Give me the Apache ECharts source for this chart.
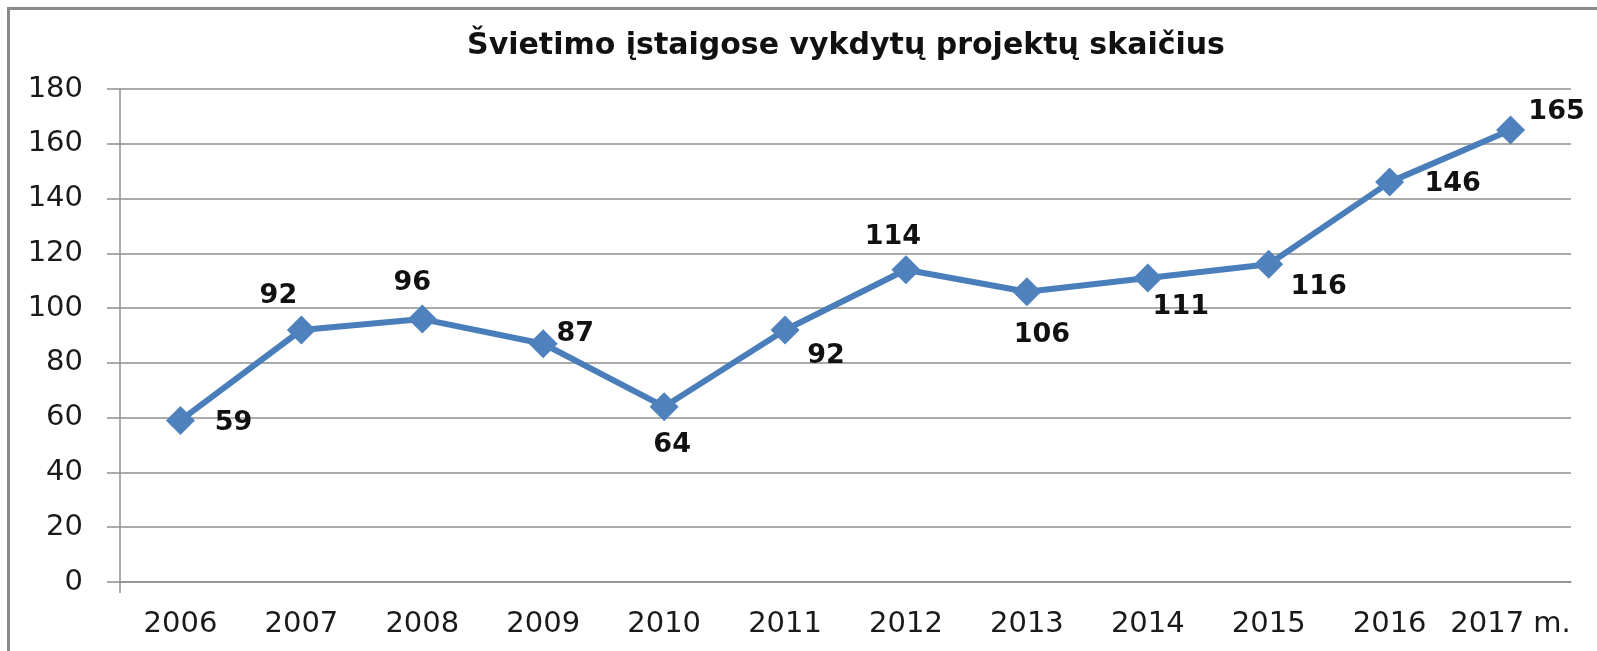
<!DOCTYPE html>
<html>
<head>
<meta charset="utf-8">
<title>Švietimo įstaigose vykdytų projektų skaičius</title>
<script src="https://cdn.jsdelivr.net/npm/echarts@6/dist/echarts.min.js"></script>
<style>
    html, body {
        margin: 0;
        padding: 0;
        width: 1597px;
        height: 651px;
        overflow: hidden;
        background: #fff;
    }
    /* rėmelis, dešinė ir apačia nukirpti kaip originale */
    #frame {
        position: absolute;
        left: 7px;
        top: 7px;
        width: 1640px;
        height: 700px;
        border: 3px solid #8a8a8a;
    }
    #chart {
        position: absolute;
        left: 0;
        top: 0;
        width: 1597px;
        height: 651px;
    }
</style>
</head>
<body>
<div id="frame"></div>
<div id="chart"></div>
<script>
    // duomenys
    let years = ['2006', '2007', '2008', '2009', '2010', '2011', '2012', '2013', '2014', '2015', '2016', '2017 m.'];
    let projects = [59, 92, 96, 87, 64, 92, 114, 106, 111, 116, 146, 165];
    let yMin = 0;
    let yMax = 180;
    let yStep = 20;

    // etikečių poslinkiai nuo taško centro (px)
    let labelOffsets = [
        [53, 3], [-23, -34], [-10, -36], [32, -10], [8, 38], [41, 26],
        [-13, -33], [15, 43], [33, 29], [50, 23], [63, 2], [46, -18]
    ];

    let font = 'DejaVu Sans';
    let gridColor = '#8f8f8f';
    let gridLeft = 120;
    let gridBottom = 69;
    let chartH = 651;

    let seriesData = projects.map((v, i) => {
        return {
            value: v,
            label: {
                offset: labelOffsets[i]
            }
        };
    });

    let myChart = echarts.init(document.getElementById('chart'), null, {renderer: 'canvas'});
    let option = {
        backgroundColor: 'transparent',
        animation: false,
        graphic: [{
            type: 'text',
            x: 846,
            y: 46,
            style: {
                text: 'Švietimo įstaigose vykdytų projektų skaičius',
                fontFamily: font,
                fontWeight: 'bold',
                fontSize: 30,
                fill: '#111',
                textAlign: 'center',
                textVerticalAlign: 'middle'
            }
        }, {
            // vertikalios ašies tęsinys žemiau nulio
            type: 'line',
            shape: {
                x1: gridLeft, y1: chartH - gridBottom,
                x2: gridLeft, y2: chartH - gridBottom + 11
            },
            style: {stroke: gridColor, lineWidth: 1.5}
        }],
        grid: {
            left: gridLeft,
            right: 26,
            top: 89,
            bottom: gridBottom,
            containLabel: false
        },
        xAxis: {
            type: 'category',
            data: years,
            boundaryGap: true,
            axisLine: {
                show: true,
                lineStyle: {color: gridColor, width: 1.5}
            },
            axisTick: {
                show: false
            },
            axisLabel: {
                interval: 0,
                margin: 28,
                fontFamily: font,
                fontSize: 29,
                color: '#1a1a1a'
            }
        },
        yAxis: {
            type: 'value',
            min: yMin,
            max: yMax,
            interval: yStep,
            axisLine: {
                show: true,
                lineStyle: {color: gridColor, width: 1.5}
            },
            axisTick: {
                show: true,
                length: 13,
                lineStyle: {color: gridColor, width: 1.5}
            },
            axisLabel: {
                margin: 37,
                fontFamily: font,
                fontSize: 29,
                color: '#1a1a1a'
            },
            splitLine: {
                show: true,
                lineStyle: {color: gridColor, width: 1.5}
            }
        },
        series: [{
            type: 'line',
            data: seriesData,
            symbol: 'diamond',
            symbolSize: 29,
            lineStyle: {
                color: '#4A7EBB',
                width: 6
            },
            itemStyle: {
                color: '#4F81BD'
            },
            label: {
                show: true,
                position: 'inside',
                align: 'center',
                verticalAlign: 'middle',
                fontFamily: font,
                fontWeight: 'bold',
                fontSize: 27,
                color: '#111'
            }
        }]
    };
    myChart.setOption(option);
</script>
</body>
</html>
